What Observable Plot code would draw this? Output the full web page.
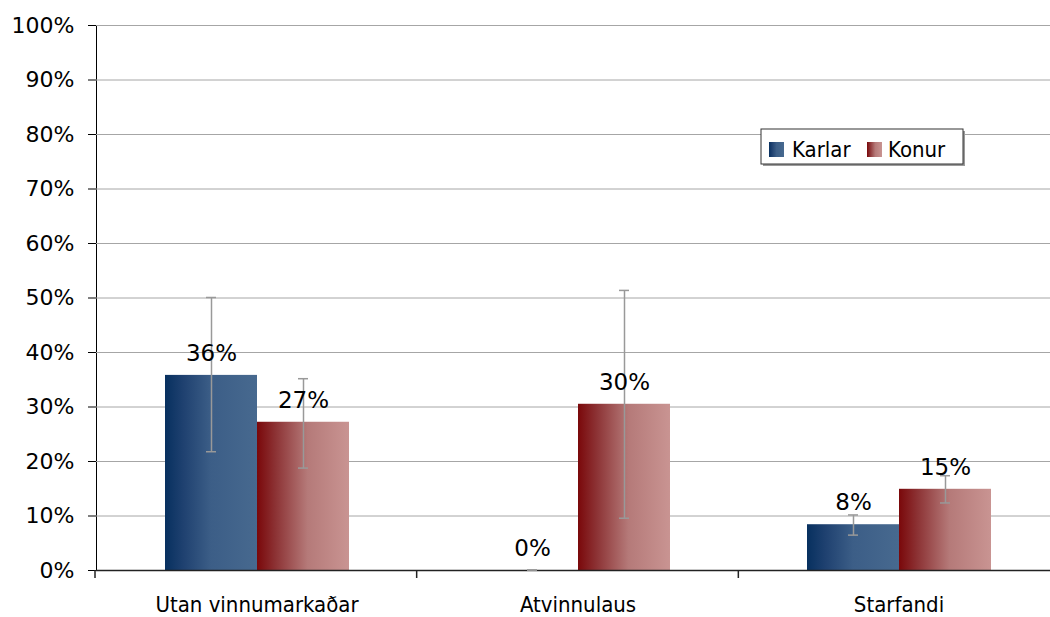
<!DOCTYPE html>
<html>
<head>
<meta charset="utf-8">
<script src="https://cdn.jsdelivr.net/npm/d3@7"></script>
<script src="https://cdn.jsdelivr.net/npm/@observablehq/plot@0.6"></script>
<style>
  html, body { margin: 0; padding: 0; background: white; overflow: hidden; }
  #chart { position: relative; width: 1050px; height: 617px; }
</style>
</head>
<body>
<div id="chart"></div>
<script>
const categories = ["Utan vinnumarkaðar", "Atvinnulaus", "Starfandi"];
const series = ["Karlar", "Konur"];
const karlarValues = [35.8, 0, 8.4];
const konurValues = [27.2, 30.5, 14.9];
const karlarLow = [21.7, 0, 6.4];
const karlarHigh = [50.0, 0, 10.1];
const konurLow = [18.7, 9.5, 12.3];
const konurHigh = [35.1, 51.3, 17.3];
const karlarLabels = ["36%", "0%", "8%"];
const konurLabels = ["27%", "30%", "15%"];
const yTicks = [0, 10, 20, 30, 40, 50, 60, 70, 80, 90, 100];

const data = [];
categories.forEach((c, i) => {
  data.push({category: c, series: "Karlar", value: karlarValues[i], low: karlarLow[i], high: karlarHigh[i], label: karlarLabels[i]});
  data.push({category: c, series: "Konur", value: konurValues[i], low: konurLow[i], high: konurHigh[i], label: konurLabels[i]});
});

const FONT = "'DejaVu Sans', Verdana, sans-serif";
const FONT_COND = "'DejaVu Sans Condensed', 'DejaVu Sans', sans-serif";
const errColor = "#999999";

const chart = Plot.plot({
  width: 1050,
  height: 617,
  marginLeft: 95,
  marginRight: 0,
  marginTop: 25,
  marginBottom: 47,
  style: {fontSize: "22px", fontFamily: FONT, color: "black", background: "white", overflow: "visible"},
  fx: {domain: categories, range: [95, 1060], padding: 0, label: null, tickSize: 0, tickPadding: 26, axis: "bottom"},
  x: {domain: series, paddingInner: 0, paddingOuter: 0.74, axis: null},
  y: {domain: [0, 100], ticks: yTicks, tickFormat: d => d + "%", tickSize: 8, tickPadding: 14, label: null, line: true},
  marks: [
    Plot.ruleY(yTicks.filter(d => d > 0), {stroke: "#a6a6a6", strokeWidth: 1}),
    Plot.barY(data.filter(d => d.series === "Karlar"), {fx: "category", x: "series", y: "value", fill: "url(#gradKarlar)"}),
    Plot.barY(data.filter(d => d.series === "Konur"), {fx: "category", x: "series", y: "value", fill: "url(#gradKonur)"}),
    Plot.ruleY([0], {stroke: "#222", strokeWidth: 1.5}),
    Plot.ruleX(data, {fx: "category", x: "series", y1: "low", y2: "high", stroke: errColor, strokeWidth: 1.5}),
    Plot.barY(data, {fx: "category", x: "series", y1: "low", y2: "low", insetLeft: 41, insetRight: 41, insetTop: -0.75, insetBottom: -0.75, fill: errColor}),
    Plot.barY(data, {fx: "category", x: "series", y1: "high", y2: "high", insetLeft: 41, insetRight: 41, insetTop: -0.75, insetBottom: -0.75, fill: errColor}),
    Plot.text(data, {fx: "category", x: "series", y: "value", text: "label", dy: -22, fontSize: 23, fill: "black"})
  ]
});

document.getElementById("chart").appendChild(chart);

const svgNode = chart.tagName.toLowerCase() === "svg" ? chart : chart.querySelector("svg");
const svg = d3.select(svgNode);

// axis label fonts
svg.selectAll('g[aria-label="y-axis tick label"] text, g[aria-label="y-axis"] text').attr("font-size", 22).style("font-size", "22px").style("font-family", FONT);
svg.selectAll('g[aria-label="fx-axis tick label"] text, g[aria-label="fx-axis"] text').style("font-size", "22px").style("font-family", FONT_COND);

const defs = svg.insert("defs", ":first-child");
function grad(id, stops) {
  const g = defs.append("linearGradient").attr("id", id).attr("x1", "0%").attr("x2", "100%").attr("y1", "0%").attr("y2", "0%");
  stops.forEach(([o, c]) => g.append("stop").attr("offset", o).attr("stop-color", c));
}
grad("gradKarlar", [[0, "#07305f"], [0.2, "#1f4170"], [0.5, "#3c5e87"], [1, "#47698f"]]);
grad("gradKonur", [[0, "#7a080a"], [0.2, "#8c3234"], [0.55, "#b57a79"], [1, "#c99492"]]);

// category separator ticks along the bottom axis
const band = d3.scaleBand().domain(categories).range([95, 1060]).padding(0);
const yS = d3.scaleLinear().domain([0, 100]).range([570, 25]);
const sepG = svg.append("g").attr("stroke", "#222").attr("stroke-width", 1.5);
categories.forEach(c => {
  const x0 = band(c);
  sepG.append("line").attr("x1", x0).attr("x2", x0).attr("y1", yS(0)).attr("y2", yS(0) + 8);
});

// legend
const lg = svg.append("g").attr("transform", "translate(761,129)");
lg.append("rect").attr("x", 2).attr("y", 2).attr("width", 202).attr("height", 35).attr("fill", "#9a9a9a");
lg.append("rect").attr("x", 0).attr("y", 0).attr("width", 202).attr("height", 35).attr("fill", "white").attr("stroke", "#333").attr("stroke-width", 1);
const items = [["Karlar", "url(#gradKarlar)", 8, 31], ["Konur", "url(#gradKonur)", 106, 127]];
items.forEach(([name, fill, sx, tx]) => {
  lg.append("rect").attr("x", sx).attr("y", 13).attr("width", 15).attr("height", 15).attr("fill", fill);
  lg.append("text").attr("x", tx).attr("y", 28).attr("text-anchor", "start")
    .style("font-size", "22px").style("font-family", FONT_COND).attr("fill", "black").text(name);
});
</script>
</body>
</html>
